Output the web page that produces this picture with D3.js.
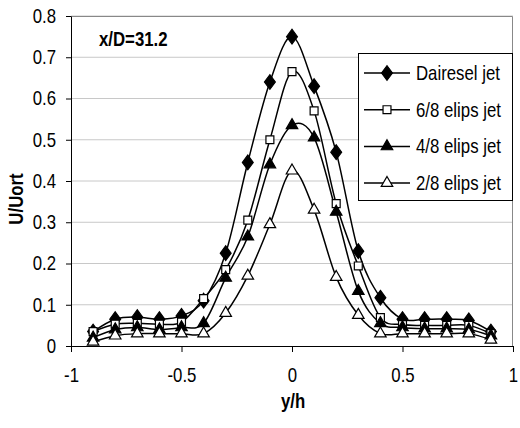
<!DOCTYPE html>
<html>
<head>
<meta charset="utf-8">
<script src="https://cdn.jsdelivr.net/npm/d3@7"></script>
<style>
  body { margin: 0; background: #fff; }
  text { font-family: "Liberation Sans", Arial, sans-serif; }
</style>
</head>
<body>
<div id="chart"></div>
<script>
// Chart values
var yh = [-0.9, -0.8, -0.7, -0.6, -0.5, -0.4, -0.3, -0.2, -0.1, 0, 0.1, 0.2, 0.3, 0.4, 0.5, 0.6, 0.7, 0.8, 0.9];
var dairesel = [0.035, 0.065, 0.07, 0.065, 0.073, 0.11, 0.225, 0.445, 0.64, 0.75, 0.63, 0.47, 0.23, 0.117, 0.065, 0.065, 0.065, 0.062, 0.035];
var elips68 = [0.035, 0.053, 0.055, 0.053, 0.058, 0.115, 0.185, 0.305, 0.50, 0.665, 0.57, 0.345, 0.194, 0.069, 0.052, 0.05, 0.05, 0.05, 0.03];
var elips48 = [0.02, 0.04, 0.045, 0.04, 0.045, 0.055, 0.165, 0.265, 0.44, 0.535, 0.505, 0.325, 0.133, 0.055, 0.045, 0.042, 0.042, 0.04, 0.025];
var elips28 = [0.01, 0.025, 0.03, 0.03, 0.03, 0.03, 0.08, 0.17, 0.295, 0.425, 0.33, 0.167, 0.075, 0.03, 0.03, 0.03, 0.03, 0.03, 0.015];
var seriesNames = ["Dairesel jet", "6/8 elips jet", "4/8 elips jet", "2/8 elips jet"];
var xTicks = [-1, -0.5, 0, 0.5, 1];
var yTicks = [0, 0.1, 0.2, 0.3, 0.4, 0.5, 0.6, 0.7, 0.8];

var svgWidth = 520;
var svgHeight = 428;

var chartMargin = { top: 16, right: 7, bottom: 82, left: 71 };
var chartWidth = svgWidth - chartMargin.left - chartMargin.right;
var chartHeight = svgHeight - chartMargin.top - chartMargin.bottom;

// the original text is tall and narrow, so squeeze it horizontally
var fontSize = 20;
var squeeze = 0.84;

var svg = d3.select("#chart")
  .append("svg")
  .attr("width", svgWidth)
  .attr("height", svgHeight);

var chartGroup = svg.append("g")
  .attr("transform", `translate(${chartMargin.left}, ${chartMargin.top})`);

var xScale = d3.scaleLinear().domain([-1, 1]).range([0, chartWidth]);
var yScale = d3.scaleLinear().domain([0, 0.8]).range([chartHeight, 0]);

// gridlines
chartGroup.selectAll(".grid")
  .data(yTicks.slice(1))
  .enter()
  .append("line")
  .attr("x1", 0)
  .attr("x2", chartWidth)
  .attr("y1", d => yScale(d))
  .attr("y2", d => yScale(d))
  .attr("stroke", "#c8c8c8")
  .attr("stroke-width", 1);

// plot area border (top / right)
chartGroup.append("path")
  .attr("d", `M0,0.5H${chartWidth - 0.5}V${chartHeight}`)
  .attr("fill", "none")
  .attr("stroke", "#888")
  .attr("stroke-width", 1);

// axes
var bottomAxis = d3.axisBottom(xScale).tickValues(xTicks).tickSize(6).tickSizeOuter(0)
  .tickFormat(d => String(d));
var leftAxis = d3.axisLeft(yScale).tickValues(yTicks).tickSize(5).tickSizeOuter(0)
  .tickFormat(d => String(d));

var xAxisG = chartGroup.append("g")
  .attr("transform", `translate(0, ${chartHeight})`)
  .call(bottomAxis);
xAxisG.selectAll("text")
  .attr("font-size", fontSize)
  .attr("y", 0)
  .attr("dy", "0.71em")
  .attr("transform", `translate(0,22) scale(${squeeze},1)`)
  .attr("fill", "#000");

var yAxisG = chartGroup.append("g").call(leftAxis);
yAxisG.selectAll("text")
  .attr("font-size", fontSize)
  .attr("x", 0)
  .attr("transform", `translate(-15,0) scale(${squeeze},1)`)
  .attr("fill", "#000");

svg.selectAll(".domain").attr("stroke", "#000");
svg.selectAll(".tick line").attr("stroke", "#000");
svg.selectAll(".tick text").style("font-family", "'Liberation Sans', Arial, sans-serif");

// axis titles
chartGroup.append("text")
  .attr("transform", `translate(${-chartMargin.left + 23}, ${199 - chartMargin.top}) rotate(-90) scale(${squeeze},1)`)
  .attr("text-anchor", "middle")
  .attr("font-size", fontSize)
  .attr("font-weight", 700)
  .text("U/Uort");

chartGroup.append("text")
  .attr("transform", `translate(${chartWidth / 2 + 1}, ${chartHeight + 62}) scale(${squeeze},1)`)
  .attr("text-anchor", "middle")
  .attr("font-size", fontSize)
  .attr("font-weight", 700)
  .text("y/h");

chartGroup.append("text")
  .attr("transform", `translate(28, 30) scale(${squeeze},1)`)
  .attr("font-size", fontSize)
  .attr("font-weight", 700)
  .text("x/D=31.2");

// series
var allSeries = [dairesel, elips68, elips48, elips28];
var symbolTypes = [d3.symbolDiamond2, d3.symbolSquare2, d3.symbolTriangle2, d3.symbolTriangle2];
var symbolFills = ["#000", "#fff", "#000", "#fff"];
var symbolSizes = [105, 80, 95, 95];

function drawMarker(g, i, x, y) {
  var sym = d3.symbol().type(symbolTypes[i]).size(symbolSizes[i]);
  var shape = g.append("path")
    .attr("d", sym())
    .attr("fill", symbolFills[i])
    .attr("stroke", "#000")
    .attr("stroke-width", 1.2);
  if (i === 0) {
    shape.attr("transform", `translate(${x},${y}) scale(0.85,1.15)`);
  } else {
    shape.attr("transform", `translate(${x},${y})`);
  }
}

var line = d3.line()
  .x((d, i) => xScale(yh[i]))
  .y(d => yScale(d))
  .curve(d3.curveCardinal);

allSeries.forEach(function(values, i) {
  chartGroup.append("path")
    .datum(values)
    .attr("d", line)
    .attr("fill", "none")
    .attr("stroke", "#000")
    .attr("stroke-width", 1.5);
});

allSeries.forEach(function(values, i) {
  var g = chartGroup.append("g");
  values.forEach(function(v, j) {
    drawMarker(g, i, xScale(yh[j]), yScale(v));
  });
});

// legend
var legend = svg.append("g").attr("transform", "translate(358, 53)");
legend.append("rect")
  .attr("x", 0.5)
  .attr("y", 0.5)
  .attr("width", 154)
  .attr("height", 147)
  .attr("fill", "#fff")
  .attr("stroke", "#000")
  .attr("stroke-width", 1);

seriesNames.forEach(function(name, i) {
  var ly = 20 + i * 36.7;
  var row = legend.append("g");
  row.append("line")
    .attr("x1", 6).attr("x2", 52)
    .attr("y1", ly).attr("y2", ly)
    .attr("stroke", "#000")
    .attr("stroke-width", 1.5);
  drawMarker(row, i, 29, ly);
  row.append("text")
    .attr("transform", `translate(58, ${ly + 7}) scale(${squeeze},1)`)
    .attr("font-size", fontSize)
    .text(name);
});
</script>
</body>
</html>
